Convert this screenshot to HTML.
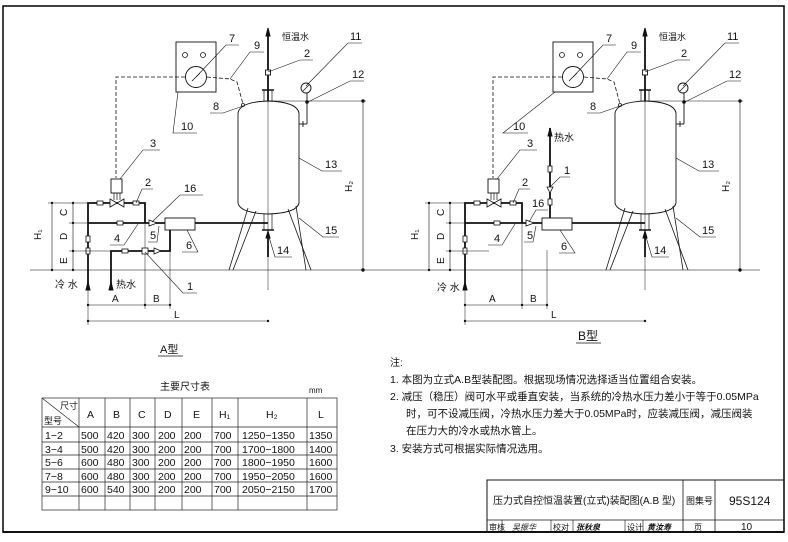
<!DOCTYPE html>
<html><head><meta charset="utf-8"><style>
html,body{margin:0;padding:0;background:#fff;}
svg{display:block;}
text{font-family:"Liberation Sans","Noto Sans CJK SC",sans-serif;fill:#111;}
.cn{font-family:"Liberation Sans","Noto Sans CJK SC",sans-serif;}
</style></head><body>
<svg width="788" height="542" viewBox="0 0 788 542" xmlns="http://www.w3.org/2000/svg">
<rect x="3" y="6" width="781" height="526" fill="none" stroke="#000" stroke-width="1.5"/>
<line x1="30" y1="270" x2="760" y2="270" stroke="#555" stroke-width="0.7"/>
<defs>
<g id="common" fill="none" stroke="#111">
 <!-- panel -->
 <rect x="176" y="42" width="40" height="50" stroke-width="0.9"/>
 <circle cx="185" cy="55" r="2.5" stroke-width="0.8"/>
 <circle cx="203" cy="55" r="2.5" stroke-width="0.8"/>
 <circle cx="196" cy="77" r="10.5" stroke-width="0.9"/>
 <line x1="192" y1="81" x2="200" y2="73" stroke-width="0.8"/>
 <polyline points="185,77 116,77 116,178" stroke-dasharray="4,2" stroke-width="0.8"/>
 <polyline points="207,77 230,79 237,82 243,104" stroke-dasharray="4,2" stroke-width="0.8"/>
 <!-- tank -->
 <path d="M238,113 Q240,102 268,101 Q297,102 299,113 L299,203 Q297,213 268,214 Q240,213 238,203 Z" stroke-width="0.9"/>
 <line x1="268" y1="28" x2="268" y2="290" stroke-width="0.5"/>
 <line x1="268" y1="35" x2="268" y2="101" stroke-width="1.8"/>
 <path d="M268,28 L266,36 L270,36 Z" fill="#111"/>
 <line x1="262" y1="90" x2="274" y2="90" stroke-width="1.5"/>
 <line x1="264" y1="90" x2="264" y2="101" stroke-width="0.7"/>
 <line x1="272" y1="90" x2="272" y2="101" stroke-width="0.7"/>
 <rect x="265.5" y="70" width="5" height="5" fill="#fff" stroke-width="0.9"/>
 <circle cx="243" cy="105" r="1.5" stroke-width="0.8"/>
 <!-- bottom outlet -->
 <line x1="264" y1="214" x2="264" y2="230" stroke-width="0.7"/>
 <line x1="272" y1="214" x2="272" y2="230" stroke-width="0.7"/>
 <line x1="262" y1="230" x2="274" y2="230" stroke-width="1.5"/>
 <line x1="268" y1="235" x2="268" y2="257" stroke-width="1.8"/>
 <path d="M268,231 L266,238 L270,238 Z" fill="#111"/>
 <!-- legs -->
 <line x1="248" y1="208" x2="229" y2="270" stroke-width="0.8"/>
 <line x1="256" y1="211" x2="233" y2="270" stroke-width="0.8"/>
 <line x1="288" y1="209" x2="311" y2="270" stroke-width="0.8"/>
 <line x1="296" y1="206" x2="306" y2="270" stroke-width="0.8"/>
 <!-- gauge 11 -->
 <circle cx="306" cy="88" r="5" stroke-width="0.9"/>
 <line x1="303" y1="91" x2="309" y2="85" stroke-width="0.7"/>
 <line x1="307" y1="93" x2="307" y2="124" stroke-width="0.9"/>
 <circle cx="307" cy="102" r="1.3" fill="#111"/>
 <line x1="299" y1="124" x2="307" y2="124" stroke-width="0.9"/>
 <line x1="303" y1="121" x2="303" y2="127" stroke-width="0.9"/>
 <!-- H2 dim -->
 <line x1="268" y1="101" x2="366" y2="101" stroke-width="0.5"/>
 <line x1="363" y1="101" x2="363" y2="270" stroke-width="0.6"/>
 <circle cx="363" cy="101" r="1.2" fill="#111"/><circle cx="363" cy="270" r="1.2" fill="#111"/>
 <!-- piping -->
 <polyline points="88,290 88,203 145,203 145,223" stroke-width="1.8"/>
 <line x1="88" y1="223" x2="268" y2="223" stroke-width="1.8"/>
 <path d="M88,282 L86,290 L90,290 Z" fill="#111"/>
 <rect x="111" y="179" width="11" height="14" fill="#fff" stroke-width="0.9"/>
 <line x1="114" y1="193" x2="114" y2="200" stroke-width="0.7"/>
 <line x1="117" y1="193" x2="117" y2="200" stroke-width="0.7"/>
 <line x1="120" y1="193" x2="120" y2="200" stroke-width="0.7"/>
 <path d="M110,199 L124,207 L124,199 L110,207 Z" fill="#fff" stroke-width="0.8"/>
 <rect x="97" y="201" width="6" height="4" fill="#fff" stroke-width="0.8"/>
 <rect x="133" y="201" width="6" height="4" fill="#fff" stroke-width="0.8"/>
 <rect x="117" y="221" width="6" height="4" fill="#fff" stroke-width="0.8"/>
 <rect x="86" y="236" width="4" height="6" fill="#fff" stroke-width="0.8"/>
 <rect x="86" y="248" width="4" height="6" fill="#fff" stroke-width="0.8"/>
 <line x1="88" y1="251" x2="112" y2="251" stroke-width="0.5"/>
 <path d="M149,220 L157,223 L149,226 Z" fill="#fff" stroke-width="0.8"/>
 <rect x="165" y="218" width="30" height="12" fill="#fff" stroke-width="0.9"/>
 <!-- H1 / C D E dims -->
 <line x1="52" y1="203" x2="52" y2="270" stroke-width="0.6"/>
 <line x1="73" y1="203" x2="73" y2="270" stroke-width="0.6"/>
 <line x1="48" y1="203" x2="88" y2="203" stroke-width="0.5"/>
 <line x1="69" y1="223" x2="88" y2="223" stroke-width="0.5"/>
 <line x1="69" y1="251" x2="88" y2="251" stroke-width="0.5"/>
 <g fill="#111" stroke="none">
  <circle cx="52" cy="203" r="1.2"/><circle cx="52" cy="270" r="1.2"/>
  <circle cx="73" cy="203" r="1.2"/><circle cx="73" cy="223" r="1.2"/><circle cx="73" cy="251" r="1.2"/><circle cx="73" cy="270" r="1.2"/>
  <circle cx="88" cy="305" r="1.2"/><circle cx="145" cy="305" r="1.2"/><circle cx="170" cy="305" r="1.2"/>
  <circle cx="88" cy="321" r="1.2"/><circle cx="268" cy="321" r="1.2"/>
 </g>
 <!-- A B L dims -->
 <line x1="88" y1="290" x2="88" y2="325" stroke-width="0.5"/>
 <line x1="145" y1="223" x2="145" y2="309" stroke-width="0.5"/>
 <line x1="170" y1="250" x2="170" y2="309" stroke-width="0.5"/>
 <line x1="88" y1="305" x2="170" y2="305" stroke-width="0.6"/>
 <line x1="88" y1="321" x2="268" y2="321" stroke-width="0.6"/>
 <!-- leaders -->
 <g stroke-width="0.6">
  <polyline points="196,77 226,45 239,45"/>
  <polyline points="230,79 250,52 264,52"/>
  <polyline points="268,72 300,60 313,60"/>
  <polyline points="306,86 348,43 362,43"/>
  <polyline points="308,102 350,81 364,81"/>
  <polyline points="243,106 223,113 210,113"/>
  <polyline points="299,158 322,171 342,171"/>
  <polyline points="299,218 323,237 339,237"/>
  <polyline points="269,237 275,257 292,257"/>
  <polyline points="120,179 143,150 160,150"/>
  <polyline points="136,203 142,189 153,189"/>
 </g>
 <g fill="#111" stroke="none" font-size="11">
  <text x="229" y="42">7</text>
  <text x="254" y="49">9</text>
  <text x="304" y="57">2</text>
  <text x="350" y="40">11</text>
  <text x="352" y="78">12</text>
  <text x="213" y="110">8</text>
  <text x="325" y="168">13</text>
  <text x="325" y="234">15</text>
  <text x="277" y="254">14</text>
  <text x="150" y="147">3</text>
  <text x="145" y="186">2</text>
  <text x="41" y="240" transform="rotate(-90 41 240)" font-size="10">H₁</text>
  <text x="67" y="216" transform="rotate(-90 67 216)" font-size="10">C</text>
  <text x="67" y="240" transform="rotate(-90 67 240)" font-size="10">D</text>
  <text x="67" y="264" transform="rotate(-90 67 264)" font-size="10">E</text>
  <text x="352" y="192" transform="rotate(-90 352 192)" font-size="10">H₂</text>
  <text x="112" y="302" font-size="10">A</text>
  <text x="153" y="302" font-size="10">B</text>
  <text x="174" y="318" font-size="10">L</text>
  <text x="282" y="40" font-size="9">恒温水</text>
 </g>
</g>
</defs>
<use href="#common"/>
<use href="#common" transform="translate(377,0)"/>

<!-- A specific -->
<g fill="none" stroke="#111">
 <polyline points="111,290 111,251 170,251 170,230" stroke-width="1.8"/>
 <path d="M111,282 L109,290 L113,290 Z" fill="#111"/>
 <rect x="122" y="249" width="6" height="4" fill="#fff" stroke-width="0.8"/>
 <rect x="142" y="248" width="6" height="6" fill="#fff" stroke-width="0.8"/>
 <path d="M154,248 L161,251 L154,254 Z" fill="#fff" stroke-width="0.8"/>
 <g stroke-width="0.6">
  <polyline points="178,92 173,133 197,133"/>
  <polyline points="152,222 180,195 203,195"/>
  <polyline points="138,224 124,245 110,245"/>
  <polyline points="159,226 157,242 148,242"/>
  <polyline points="187,230 198,252 182,252"/>
  <polyline points="145,252 183,293 197,293"/>
 </g>
</g>
<g font-size="11">
 <text x="181" y="130">10</text>
 <text x="184" y="192">16</text>
 <text x="114" y="242">4</text>
 <text x="150" y="239">5</text>
 <text x="186" y="249">6</text>
 <text x="187" y="290">1</text>
 <text x="55" y="288" font-size="10">冷 水</text>
 <text x="116" y="288" font-size="10">热水</text>
 <text x="160" y="353" font-size="11">A型</text>
 <line x1="158" y1="356" x2="183" y2="356" stroke="#111" stroke-width="0.7"/>
</g>

<!-- B specific -->
<g fill="none" stroke="#111">
 <line x1="550" y1="128" x2="550" y2="218" stroke-width="1.8"/>
 <path d="M550,128 L548,136 L552,136 Z" fill="#111"/>
 <rect x="548" y="166" width="4" height="6" fill="#fff" stroke-width="0.8"/>
 <path d="M547,187 L553,187 L550,193 Z" fill="#fff" stroke-width="0.8"/>
 <rect x="548" y="199" width="4" height="6" fill="#fff" stroke-width="0.8"/>
 <g stroke-width="0.6">
  <polyline points="555,92 503,133 528,133"/>
  <polyline points="550,187 560,177 570,177"/>
  <polyline points="529,222 536,210 548,210"/>
  <polyline points="515,224 502,245 488,245"/>
  <polyline points="536,226 533,242 524,242"/>
  <polyline points="560,230 575,253 559,253"/>
 </g>
</g>
<g font-size="11">
 <text x="513" y="130">10</text>
 <text x="564" y="174">1</text>
 <text x="532" y="207">16</text>
 <text x="494" y="242">4</text>
 <text x="527" y="239">5</text>
 <text x="561" y="250">6</text>
 <text x="437" y="291" font-size="10">冷 水</text>
 <text x="554" y="141" font-size="10">热水</text>
 <text x="578" y="340" font-size="12">B型</text>
 <line x1="576" y1="343" x2="601" y2="343" stroke="#111" stroke-width="0.7"/>
</g>

<!-- table -->
<text x="160" y="390" font-size="10">主要尺寸表</text>
<text x="309" y="393" font-size="8">mm</text>
<g stroke="#222" stroke-width="0.7" fill="none">
 <rect x="42" y="398" width="295" height="112"/>
 <line x1="42" y1="427" x2="337" y2="427"/>
 <line x1="42" y1="442" x2="337" y2="442"/>
 <line x1="42" y1="455" x2="337" y2="455"/>
 <line x1="42" y1="469" x2="337" y2="469"/>
 <line x1="42" y1="482" x2="337" y2="482"/>
 <line x1="42" y1="496" x2="337" y2="496"/>
 <line x1="42" y1="398" x2="79" y2="427"/>
 <line x1="79" y1="398" x2="79" y2="510"/><line x1="105" y1="398" x2="105" y2="510"/>
 <line x1="130" y1="398" x2="130" y2="510"/><line x1="155" y1="398" x2="155" y2="510"/>
 <line x1="182" y1="398" x2="182" y2="510"/><line x1="212" y1="398" x2="212" y2="510"/>
 <line x1="238" y1="398" x2="238" y2="510"/><line x1="307" y1="398" x2="307" y2="510"/>
</g>
<g font-size="10.5" fill="#333">
 <text x="60" y="409" font-size="9">尺寸</text><text x="44" y="424" font-size="9">型号</text>
 <text x="87" y="418">A</text><text x="113" y="418">B</text><text x="138" y="418">C</text><text x="164" y="418">D</text><text x="193" y="418">E</text><text x="219" y="418">H₁</text><text x="266" y="418">H₂</text><text x="318" y="418">L</text>
 <text x="45" y="439">1−2</text><text x="81" y="439">500</text><text x="107" y="439">420</text><text x="132" y="439">300</text><text x="158" y="439">200</text><text x="184" y="439">200</text><text x="214" y="439">700</text><text x="242" y="439">1250−1350</text><text x="309" y="439">1350</text>
 <text x="45" y="453">3−4</text><text x="81" y="453">500</text><text x="107" y="453">420</text><text x="132" y="453">300</text><text x="158" y="453">200</text><text x="184" y="453">200</text><text x="214" y="453">700</text><text x="242" y="453">1700−1800</text><text x="309" y="453">1400</text>
 <text x="45" y="466">5−6</text><text x="81" y="466">600</text><text x="107" y="466">480</text><text x="132" y="466">300</text><text x="158" y="466">200</text><text x="184" y="466">200</text><text x="214" y="466">700</text><text x="242" y="466">1800−1950</text><text x="309" y="466">1600</text>
 <text x="45" y="480">7−8</text><text x="81" y="480">600</text><text x="107" y="480">480</text><text x="132" y="480">300</text><text x="158" y="480">200</text><text x="184" y="480">200</text><text x="214" y="480">700</text><text x="242" y="480">1950−2050</text><text x="309" y="480">1600</text>
 <text x="45" y="493">9−10</text><text x="81" y="493">600</text><text x="107" y="493">540</text><text x="132" y="493">300</text><text x="158" y="493">200</text><text x="184" y="493">200</text><text x="214" y="493">700</text><text x="242" y="493">2050−2150</text><text x="309" y="493">1700</text>
</g>

<!-- notes -->
<g font-size="10.5">
 <text x="390" y="366" font-size="10">注:</text>
 <text x="390" y="383">1. 本图为立式A.B型装配图。根据现场情况选择适当位置组合安装。</text>
 <text x="390" y="400">2. 减压（稳压）阀可水平或垂直安装，当系统的冷热水压力差小于等于0.05MPa</text>
 <text x="406" y="417">时，可不设减压阀，冷热水压力差大于0.05MPa时，应装减压阀，减压阀装</text>
 <text x="406" y="434">在压力大的冷水或热水管上。</text>
 <text x="390" y="452">3. 安装方式可根据实际情况选用。</text>
</g>

<!-- title block -->
<g stroke="#111" fill="none">
 <polyline points="487,532 487,480 784,480" stroke-width="1"/>
 <line x1="487" y1="520" x2="784" y2="520" stroke-width="0.8"/>
 <line x1="683" y1="480" x2="683" y2="532" stroke-width="0.8"/>
 <line x1="715" y1="480" x2="715" y2="532" stroke-width="0.8"/>
 <line x1="502" y1="520" x2="502" y2="532" stroke-width="0.6"/>
 <line x1="551" y1="520" x2="551" y2="532" stroke-width="0.6"/>
 <line x1="573" y1="520" x2="573" y2="532" stroke-width="0.6"/>
 <line x1="625" y1="520" x2="625" y2="532" stroke-width="0.6"/>
 <line x1="643" y1="520" x2="643" y2="532" stroke-width="0.6"/>
 <line x1="3" y1="532" x2="784" y2="532" stroke-width="2"/>
</g>
<text x="493" y="504" font-size="10">压力式自控恒温装置(立式)装配图(A.B 型)</text>
<text x="686" y="504" font-size="9">图集号</text>
<text x="729" y="505" font-size="12" fill="#333">95S124</text>
<g font-size="8">
 <text x="489" y="530">审核</text><text x="512" y="530" font-style="italic">吴振华</text>
 <text x="553" y="530">校对</text><text x="576" y="530" font-weight="bold" font-style="italic">张秋泉</text>
 <text x="627" y="530">设计</text><text x="647" y="530" font-weight="bold" font-style="italic">黄汝寿</text>
 <text x="694" y="530">页</text><text x="741" y="530" font-size="10">10</text>
</g>
</svg>
</body></html>
